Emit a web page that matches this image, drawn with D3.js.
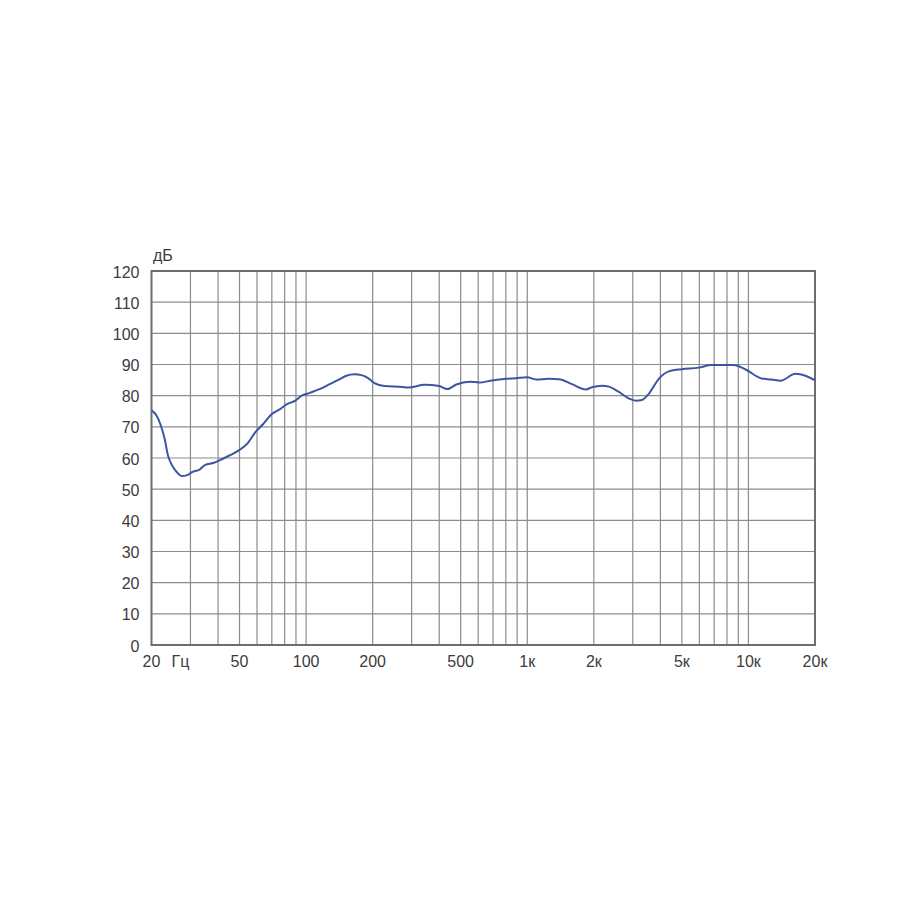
<!DOCTYPE html>
<html><head><meta charset="utf-8">
<script src="https://cdn.jsdelivr.net/npm/d3@7"></script>
<style>body{margin:0;background:#fff}svg{display:block}text{font-family:"Liberation Sans",Arial,sans-serif;fill:#3c3c3c}</style>
</head><body><svg id="c" width="915" height="915"></svg>
<script>
const freqs = [20,21,22,23,23.7,24.7,26,27.5,29,30.5,33,35,38,41.6,45,50,54.5,59,64,70,76,82,89,95,104,115,128,142,152,165,178,190,204,226,273,290,343,400,435,478,547,606,694,803,890,998,1096,1254,1392,1592,1842,1960,2176,2338,2596,2880,3098,3296,3545,3932,4364,4994,5957,6821,8570,9714,11470,12724,13970,16320,18108,20000];
const levels = [75.3,73.8,70.6,65.8,61,57.8,55.5,54.2,54.5,55.5,56.3,57.8,58.4,59.6,60.8,62.6,64.8,68.3,70.9,74.1,75.6,77.3,78.3,79.9,80.9,82.1,83.7,85.3,86.4,86.9,86.6,85.7,84,83.1,82.8,82.6,83.5,83.1,82.1,83.6,84.5,84.2,84.9,85.4,85.6,85.9,85.2,85.4,85.3,83.7,82,82.7,83.2,82.9,81.2,79.1,78.4,78.6,80.6,85.4,87.8,88.5,89,89.8,89.8,88.4,85.5,85.2,84.8,87,86.4,84.9];
const yTicks = [0,10,20,30,40,50,60,70,80,90,100,110,120];
const xLabels = [[20,"20"],[50,"50"],[100,"100"],[200,"200"],[500,"500"],[1000,"1к"],[2000,"2к"],[5000,"5к"],[10000,"10к"],[20000,"20к"]];
const xGrid = [30,40,50,60,70,80,90,100,200,300,400,500,600,700,800,900,1000,2000,3000,4000,5000,6000,7000,8000,9000,10000];

const svg = d3.select("#c");
const L=151.5, R=815, T=271, B=645;
const x = d3.scaleLog().domain([20,20000]).range([L,R]);
const y = d3.scaleLinear().domain([0,120]).range([B,T]);

svg.append("g").selectAll("line").data(yTicks).join("line")
  .attr("x1",L).attr("x2",R).attr("y1",d=>y(d)).attr("y2",d=>y(d))
  .attr("stroke","#8c8c8c").attr("stroke-width",1.2);
svg.append("g").selectAll("line").data(xGrid).join("line")
  .attr("x1",d=>x(d)).attr("x2",d=>x(d)).attr("y1",T).attr("y2",B)
  .attr("stroke","#8c8c8c").attr("stroke-width",1.2);
svg.append("rect").attr("x",L).attr("y",T).attr("width",R-L).attr("height",B-T)
  .attr("fill","none").attr("stroke","#6e6e6e").attr("stroke-width",2);

svg.append("g").selectAll("text").data(yTicks).join("text")
  .attr("x",139.5).attr("y",d=>y(d)+6.5).attr("text-anchor","end")
  .attr("font-size",16).text(d=>d);
svg.append("g").selectAll("text").data(xLabels).join("text")
  .attr("x",d=>x(d[0])).attr("y",667).attr("text-anchor","middle")
  .attr("font-size",16).text(d=>d[1]);
svg.append("text").attr("x",180.5).attr("y",667).attr("text-anchor","middle").attr("font-size",16).text("Гц");
svg.append("text").attr("x",153).attr("y",261).attr("font-size",16).text("дБ");

const data = freqs.map((f,i)=>[f,levels[i]]);
svg.append("path").datum(data)
  .attr("d", d3.line().x(d=>x(d[0])).y(d=>y(d[1])).curve(d3.curveMonotoneX))
  .attr("fill","none").attr("stroke","#3b55a2").attr("stroke-width",2);
</script></body></html>
